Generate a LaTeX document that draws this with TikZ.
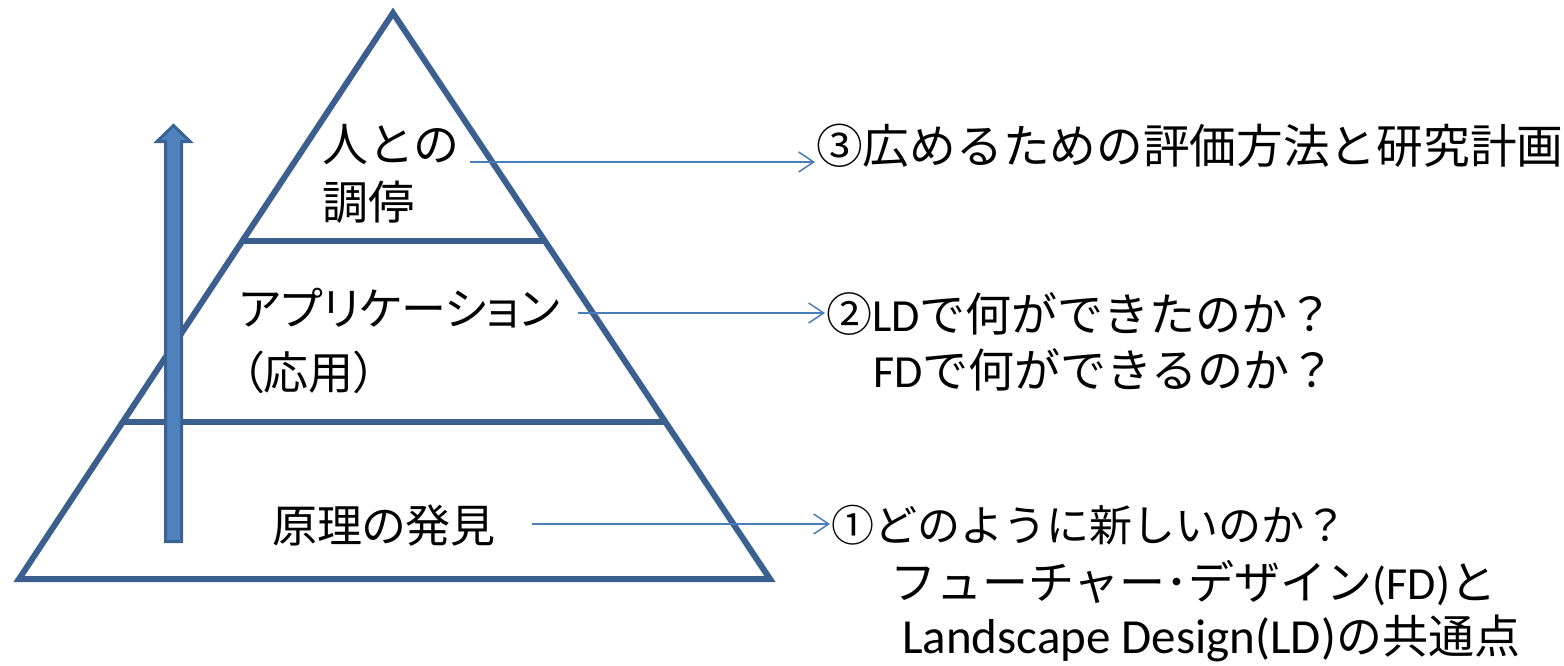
\documentclass[tikz,border=0pt]{standalone}
\usepackage{fontspec}
\setmainfont{Noto Sans CJK JP}
\newfontfamily\jpp[RawFeature=+palt]{Noto Sans CJK JP}
\newfontfamily\lat{Carlito}
\usetikzlibrary{arrows.meta,calc}
\definecolor{pyrc}{HTML}{3B5F8F}
\definecolor{connc}{HTML}{4A7EBB}
\definecolor{upfill}{HTML}{4F81BD}
\definecolor{upline}{HTML}{3A6294}
\begin{document}
\begin{tikzpicture}[x=1pt,y=-1pt,
  lbl/.style={anchor=base west, inner sep=0pt, font=\fontsize{46}{52}\selectfont},
  lblp/.style={lbl, font=\fontsize{45}{52}\jpp},
  conn/.style={draw=connc, line width=1.5pt, -{Straight Barb[length=15pt,width=20pt,line width=1.5pt]}},
  pyr/.style={draw=pyrc, line width=6pt, line join=miter, miter limit=20}]
\useasboundingbox (0,0) rectangle (1564,665);
% pyramid
\coordinate (apex) at (393,13);
\coordinate (bl) at (19,579);
\coordinate (br) at (770,579);
\draw[pyr] (apex) -- (bl) -- (br) -- cycle;
\draw[pyr] ($(apex)!0.4028!(bl)$) -- ($(apex)!0.4028!(br)$);
\draw[pyr] ($(apex)!0.7226!(bl)$) -- ($(apex)!0.7226!(br)$);
% upward arrow
\draw[upline, fill=upfill, line width=3pt, line join=miter]
  (165.5,541.5) -- (165.5,141.5) -- (157,141.5) -- (173.5,125.5) -- (190,141.5) -- (181.5,141.5) -- (181.5,541.5) -- cycle;
% left labels
\node[lbl]  (a1) at (322,161) {人との};
\node[lbl]  (a2) at (322,219) {調停};
\node[lblp] (b1) at (239,325) {アプリケーション};
\node[lblp] (b2) at (241,389) {（応用）};
\node[lblp] (c1) at (272,542) {原理の発見};
% right labels
\node[lbl, font=\fontsize{46.7}{52}\selectfont] (r3) at (816,163) {③広めるための評価方法と研究計画};
\node[lbl] (r2a) at (826,331) {②{\lat LD}で何ができたのか？};
\node[lbl] (r2b) at (873,387) {{\lat FD}で何ができるのか？};
\node[lbl, font=\fontsize{43}{52}\selectfont] (r1a) at (831,541) {①どのように新しいのか？};
\node[lbl] (r1b) at (890,599) {フューチャー･デザイン{\lat (FD)}と};
\node[lbl] (r1c) at (902,653) {{\lat\fontsize{49}{52}\selectfont Landscape Design(LD)}の共通点};
% connectors
\coordinate (s3) at (470,162);
\coordinate (s2) at (578,313);
\coordinate (s1) at (532,524);
\draw[conn] (s3) -- ([xshift=-1pt]s3 -| r3.west);
\draw[conn] (s2) -- ([xshift=-1pt]s2 -| r2a.west);
\draw[conn] (s1) -- ([xshift=-1pt]s1 -| r1a.west);
\end{tikzpicture}
\end{document}
